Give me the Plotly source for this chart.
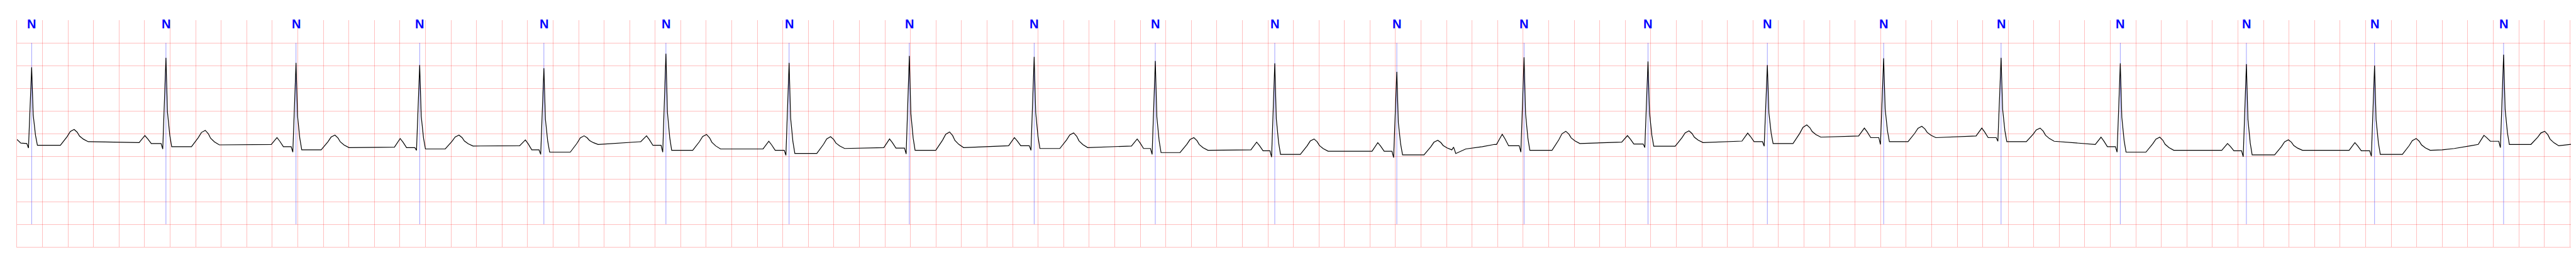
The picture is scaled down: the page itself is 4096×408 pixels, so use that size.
import plotly.graph_objects as go

# ---- beat annotations (R-peak times, seconds) ----
beat_t = [0.115, 1.167, 2.186, 3.155, 4.128, 5.084, 6.049, 6.991, 7.969, 8.918, 9.854,
          10.810, 11.807, 12.778, 13.713, 14.624, 15.544, 16.478, 17.466, 18.470, 19.481]
beat_label = ["N"] * 21

# ---- per-beat values (mV) ----
r_amp = [1.46, 1.67, 1.56, 1.51, 1.44, 1.76, 1.56, 1.71, 1.69, 1.60, 1.55,
         1.36, 1.68, 1.59, 1.51, 1.66, 1.67, 1.55, 1.53, 1.50, 1.74]
q_amp = [-0.32, -0.34, -0.41, -0.37, -0.46, -0.41, -0.48, -0.45, -0.37, -0.46, -0.52,
         -0.53, -0.41, -0.31, -0.28, -0.24, -0.17, -0.41, -0.51, -0.50, -0.31]
pr_level = [-0.22, -0.22, -0.29, -0.31, -0.36, -0.26, -0.37, -0.32, -0.27, -0.33, -0.38,
            -0.39, -0.27, -0.23, -0.18, -0.09, -0.09, -0.29, -0.38, -0.38, -0.17]
p_t = [None, 1.002, 2.037, 3.002, 3.983, 4.932, 5.890, 6.836, 7.814, 8.776, 9.712,
       10.661, 11.636, 12.617, 13.559, 14.473, 15.393, 16.327, 17.318, 18.316, 19.327]
p_amp = [None, -0.045, -0.09, -0.11, -0.14, -0.05, -0.17, -0.12, -0.09, -0.12, -0.19,
         -0.20, -0.015, -0.045, 0.01, 0.12, 0.12, -0.08, -0.22, -0.20, -0.04]
pre_p_level = [None, -0.20, -0.24, -0.30, -0.27, -0.18, -0.34, -0.31, -0.27, -0.275, -0.36,
               -0.39, -0.24, -0.19, -0.167, -0.053, -0.053, -0.24, -0.37, -0.37, -0.24]
st_level = [-0.26, -0.29, -0.36, -0.34, -0.41, -0.37, -0.44, -0.37, -0.33, -0.42, -0.46,
            -0.47, -0.37, -0.28, -0.22, -0.18, -0.18, -0.41, -0.47, -0.46, -0.24]
t_t = [0.448, 1.475, 2.491, 3.463, 4.443, 5.402, 6.374, 7.306, 8.278, 9.220, 10.162,
       11.131, 12.134, 13.099, 14.022, 14.923, 15.850, 16.787, 17.795, 18.796, 19.803]
t_amp = [0.09, 0.07, -0.035, -0.035, -0.05, -0.02, -0.07, 0.035, 0.015, -0.09, -0.12,
         -0.15, 0.05, 0.06, 0.19, 0.16, 0.12, -0.08, -0.14, -0.11, 0.05]
post_t_level = [-0.18, -0.25, -0.31, -0.275, -0.24, -0.34, -0.33, -0.31, -0.31, -0.37, -0.39,
                -0.36, -0.22, -0.20, -0.08, -0.09, -0.17, -0.37, -0.37, -0.37, -0.27]

# irregular stretches of the trace (time s, value mV)
extra_t = [0.0, 0.03, 11.255, 11.272, 11.35, 11.48, 11.575, 19.0, 19.095, 19.224, 20.058]
extra_v = [-0.13, -0.21, -0.30, -0.44, -0.34, -0.29, -0.24, -0.36, -0.33, -0.27, -0.22]

# wave outlines measured on the first beats: (time offset, fraction of excursion)
P_RISE = [(-0.045, 0.0), (-0.018, 0.6)]
P_FALL = [(0.022, 0.6), (0.05, 0.0)]
QRS_T = [-0.038, -0.025, 0.0, 0.012, 0.03, 0.045]
R_FALL_FRAC = [0.39, 0.13]
T_RISE = [(-0.108, 0.0), (-0.055, 0.55), (-0.03, 0.87)]
T_FALL = [(0.024, 0.77), (0.042, 0.46), (0.072, 0.21), (0.11, 0.0)]

pts = []
for i in range(len(beat_t)):
    if p_t[i] is not None:
        for dt, f in P_RISE:
            pts.append((p_t[i] + dt, pre_p_level[i] + f * (p_amp[i] - pre_p_level[i])))
        pts.append((p_t[i], p_amp[i]))
        for dt, f in P_FALL:
            pts.append((p_t[i] + dt, pr_level[i] + f * (p_amp[i] - pr_level[i])))
    tr = beat_t[i]
    st = st_level[i]
    pts.append((tr + QRS_T[0], pr_level[i]))
    pts.append((tr + QRS_T[1], q_amp[i]))
    pts.append((tr + QRS_T[2], r_amp[i]))
    pts.append((tr + QRS_T[3], st + R_FALL_FRAC[0] * (r_amp[i] - st)))
    pts.append((tr + QRS_T[4], st + R_FALL_FRAC[1] * (r_amp[i] - st)))
    pts.append((tr + QRS_T[5], st))
    for dt, f in T_RISE:
        pts.append((t_t[i] + dt, st + f * (t_amp[i] - st)))
    pts.append((t_t[i], t_amp[i]))
    a = post_t_level[i]
    for dt, f in T_FALL:
        pts.append((t_t[i] + dt, a + f * (t_amp[i] - a)))
pts += list(zip(extra_t, extra_v))
pts.sort(key=lambda p: p[0])
ecg_x = [p[0] for p in pts]
ecg_y = [p[1] for p in pts]

# annotation marker lines
mx, my = [], []
for t in beat_t:
    mx += [t, t, None]
    my += [2.0, -2.0, None]

fig = go.Figure()
fig.add_trace(go.Scatter(x=mx, y=my, mode="lines",
                         line=dict(color="rgba(0,0,255,0.55)", width=0.7),
                         hoverinfo="skip", showlegend=False))
fig.add_trace(go.Scatter(x=ecg_x, y=ecg_y, mode="lines",
                         line=dict(color="black", width=1.2),
                         showlegend=False))

for t, lab in zip(beat_t, beat_label):
    fig.add_annotation(x=t, y=2.41, xref="x", yref="y", text="<b>%s</b>" % lab,
                       showarrow=False, xanchor="center", yanchor="middle",
                       font=dict(family="Liberation Sans, Arial, sans-serif", size=20,
                                 color="rgb(0,0,255)"))

grid = "rgba(255,0,0,0.25)"
fig.update_layout(
    width=4096, height=408,
    margin=dict(l=19, r=6, t=24, b=24),
    paper_bgcolor="white", plot_bgcolor="white",
    showlegend=False,
    xaxis=dict(range=[0, 20.058], tick0=0, dtick=0.2, showgrid=True, gridcolor=grid,
               gridwidth=1, zeroline=False, showticklabels=False, ticks="",
               showline=True, linecolor=grid, linewidth=1),
    yaxis=dict(range=[-2.5, 2.5], tick0=0, dtick=0.5, showgrid=True, gridcolor=grid,
               gridwidth=1, zeroline=False, showticklabels=False, ticks="",
               showline=True, linecolor=grid, linewidth=1),
)
fig.write_html("out.html")
